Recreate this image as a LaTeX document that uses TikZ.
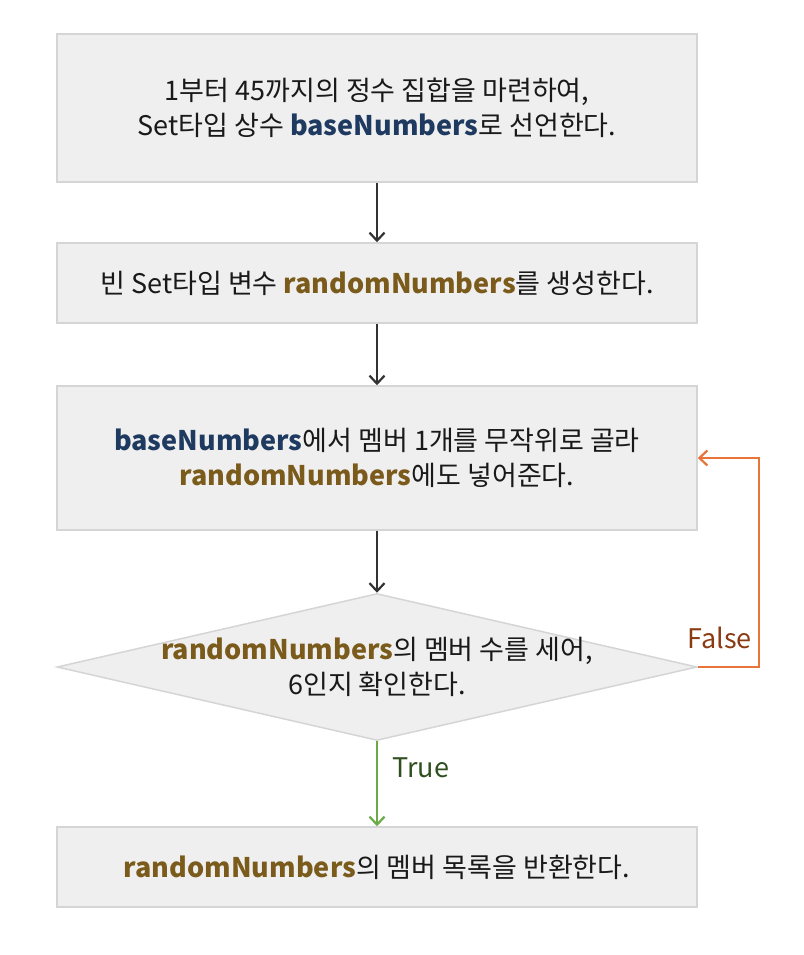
\documentclass[tikz,border=0pt]{standalone}
\usepackage{fontspec}
\setmainfont{Noto Sans CJK KR}
\usetikzlibrary{shapes.geometric,arrows.meta}
\definecolor{boxfill}{HTML}{EFEFEF}
\definecolor{boxline}{HTML}{D5D5D5}
\definecolor{basecol}{HTML}{1F3A60}
\definecolor{randcol}{HTML}{7B5B1B}
\definecolor{loopcol}{HTML}{E8743A}
\definecolor{falsecol}{HTML}{8A3B14}
\definecolor{truecol}{HTML}{2F4F1F}
\definecolor{okcol}{HTML}{6BAA48}
\newcommand{\basenum}{\textcolor{basecol}{\textbf{baseNumbers}}}
\newcommand{\randnum}{\textcolor{randcol}{\textbf{randomNumbers}}}
\tikzset{
  stepbox/.style={draw=boxline, fill=boxfill, line width=1.5pt, minimum width=640pt,
    align=center, text=black!90, font=\fontsize{27}{35}\selectfont},
  flow/.style={draw=black!80, line width=2.2pt, -{Straight Barb[length=8pt,width=15pt]}},
  flowlabel/.style={font=\fontsize{27}{30}\selectfont}
}
\begin{document}
\begin{tikzpicture}[x=1pt,y=-1pt]
  \useasboundingbox (0,0) rectangle (803,955);
  \node[stepbox, minimum height=148pt] (base) at (377,108)
    {1부터 45까지의 정수 집합을 마련하여,\\ Set타입 상수 \basenum{}로 선언한다.};
  \node[stepbox, minimum height=80pt] (empty) at (377,283)
    {빈 Set타입 변수 \randnum{}를 생성한다.};
  \node[stepbox, minimum height=144pt] (pick) at (377,458)
    {\basenum{}에서 멤버 1개를 무작위로 골라\\ \randnum{}에도 넣어준다.};
  \node[draw=boxline, fill=boxfill, line width=1.5pt, shape=diamond, inner sep=0pt,
    minimum width=640pt, minimum height=147pt] (check) at (377,667) {};
  \node[align=center, text=black!90, font=\fontsize{27}{35}\selectfont] (checktext) at (check.center)
    {\randnum{}의 멤버 수를 세어,\\ 6인지 확인한다.};
  \node[stepbox, minimum height=80pt] (result) at (377,867)
    {\randnum{}의 멤버 목록을 반환한다.};
  \coordinate (turn) at (759,667);
  \draw[flow] (base) -- (empty);
  \draw[flow] (empty) -- (pick);
  \draw[flow] (pick) -- (check.north);
  \draw[flow, draw=okcol] (check.south) -- node[pos=0.31, right, xshift=11pt, text=truecol, flowlabel] (truelabel) {True} (result);
  \draw[flow, draw=loopcol] (check.east) -- (turn) |- node[pos=0.07, left, xshift=-3pt, text=falsecol, flowlabel] (falselabel) {False} (pick.east);
\end{tikzpicture}
\end{document}
